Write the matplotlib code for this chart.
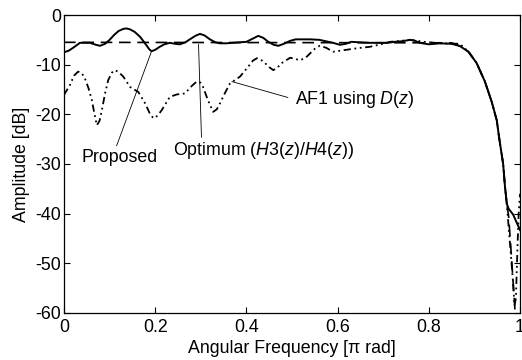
import numpy as np
import matplotlib
matplotlib.use("Agg")
import matplotlib.pyplot as plt

plt.rcParams['font.family'] = ['Liberation Sans', 'DejaVu Sans']
plt.rcParams['mathtext.fontset'] = 'custom'
plt.rcParams['mathtext.rm'] = 'Liberation Sans'
plt.rcParams['mathtext.it'] = 'Liberation Sans:italic'

# Proposed (solid)
prop_x = [0.0, 0.01, 0.02, 0.035, 0.057, 0.07, 0.079, 0.09, 0.10, 0.11, 0.12, 0.13, 0.137,
          0.145, 0.155, 0.167, 0.18, 0.187, 0.192, 0.2, 0.21, 0.22, 0.232, 0.244, 0.254,
          0.266, 0.276, 0.288, 0.298, 0.308, 0.32, 0.332, 0.342, 0.355, 0.371, 0.385, 0.40,
          0.413, 0.426, 0.437, 0.448, 0.46, 0.47, 0.482, 0.496, 0.508, 0.52, 0.54, 0.56,
          0.575, 0.59, 0.605, 0.618, 0.63, 0.65, 0.67, 0.69, 0.71, 0.725, 0.74, 0.759,
          0.77, 0.78, 0.80, 0.825, 0.85, 0.868, 0.887, 0.905, 0.923, 0.938, 0.949, 0.955,
          0.963, 0.967, 0.971, 0.975, 0.985, 1.0]
prop_y = [-7.5, -7.2, -6.6, -5.6, -5.6, -6.0, -6.2, -5.8, -5.0, -4.0, -3.2, -2.8, -2.7,
          -2.9, -3.4, -4.4, -6.0, -6.9, -7.3, -7.0, -6.4, -5.9, -5.6, -5.8, -5.9,
          -5.5, -4.9, -4.2, -3.8, -4.1, -4.9, -5.5, -5.7, -5.7, -5.6, -5.5, -5.4,
          -4.8, -4.2, -4.6, -5.4, -6.0, -6.2, -5.8, -5.2, -4.9, -4.9, -4.9, -5.0,
          -5.3, -5.6, -6.0, -5.8, -5.4, -5.5, -5.6, -5.6, -5.6, -5.4, -5.3, -5.0,
          -5.2, -5.6, -5.9, -5.7, -5.8, -6.25, -7.4, -9.7, -13.4, -17.5, -21.2, -25.2,
          -30.0, -34.5, -38.0, -39.0, -40.2, -43.3]

# Optimum (H3(z)/H4(z)) (dashed)
opt_x = [0.0, 0.85, 0.868, 0.887, 0.905, 0.923, 0.938, 0.949, 0.955, 0.963, 0.967, 0.971,
         0.975, 0.98, 0.985, 0.989, 0.992]
opt_y = [-5.5, -5.6, -6.25, -7.4, -9.7, -13.4, -17.5, -21.2, -25.2, -30.0, -34.5, -38.0,
         -40.5, -47.0, -54.0, -59.5, -60.0]

# AF1 using D(z) (dash-dot-dot)
af1_x = [0.0, 0.013, 0.022, 0.031, 0.039, 0.046, 0.054, 0.061, 0.067, 0.072, 0.078, 0.083,
         0.09, 0.097, 0.105, 0.112, 0.12, 0.13, 0.145, 0.163, 0.178, 0.188, 0.196, 0.205,
         0.214, 0.232, 0.247, 0.265, 0.28, 0.291, 0.299, 0.305, 0.315, 0.327, 0.335, 0.342,
         0.353, 0.364, 0.386, 0.404, 0.414, 0.423, 0.432, 0.441, 0.45, 0.459, 0.468, 0.477,
         0.496, 0.518, 0.53, 0.54, 0.551, 0.561, 0.575, 0.59, 0.612, 0.642,
         0.671, 0.695, 0.715, 0.74, 0.759, 0.79, 0.825, 0.868, 0.887, 0.905, 0.923, 0.938,
         0.949, 0.955, 0.963, 0.967, 0.971, 0.978, 0.984, 0.988, 0.991, 0.994, 0.997, 1.0]
af1_y = [-16.1, -14.1, -12.2, -11.4, -11.7, -12.8, -14.8, -17.1, -20.0, -22.2, -21.3, -19.2,
         -15.8, -13.1, -11.6, -11.1, -11.5, -12.4, -14.5, -15.5, -17.8, -19.8, -20.8, -20.3,
         -19.2, -16.5, -16.0, -15.8, -14.3, -13.4, -13.6, -14.5, -17.0, -19.5, -19.0, -17.8,
         -15.7, -13.8, -12.4, -10.4, -9.2, -8.7, -9.0, -9.7, -10.5, -11.1, -10.6, -9.7,
         -8.6, -9.1, -8.6, -7.7, -6.7, -6.2, -6.6, -7.4, -7.1, -6.7,
         -6.4, -5.9, -5.4, -5.2, -5.0, -5.4, -5.7, -5.8, -7.4, -9.7, -13.4, -17.5,
         -21.2, -25.2, -30.0, -34.5, -38.0, -46.0, -53.0, -58.5, -57.0, -48.0, -40.0, -36.0]

x_ticks = [0, 0.2, 0.4, 0.6, 0.8, 1]
x_ticklabels = ['0', '0.2', '0.4', '0.6', '0.8', '1']
y_ticks = [0, -10, -20, -30, -40, -50, -60]
y_ticklabels = ['0', '-10', '-20', '-30', '-40', '-50', '-60']

fs = 12.8

fig = plt.figure(figsize=(5.22, 3.6), dpi=100)
ax = fig.add_axes([0.1226, 0.1306, 0.8736, 0.8277])

ax.plot(opt_x, opt_y, color='black', lw=1.2, dashes=(7, 4))
ax.plot(af1_x, af1_y, color='black', lw=1.3, dashes=(4, 2, 1, 2, 1, 2))
ax.plot(prop_x, prop_y, color='black', lw=1.4)

ax.set_xlim(0, 1)
ax.set_ylim(-60, 0)
ax.set_xticks(x_ticks)
ax.set_xticklabels(x_ticklabels)
ax.set_yticks(y_ticks)
ax.set_yticklabels(y_ticklabels)
ax.tick_params(direction='in', length=4, width=0.8, top=True, right=True,
               labelsize=fs, pad=2, colors='black')
ax.tick_params(axis='x', pad=4)
for s in ax.spines.values():
    s.set_linewidth(0.9)

ax.set_xlabel('Angular Frequency [\u03c0 rad]', fontsize=fs, labelpad=3)
ax.set_ylabel('Amplitude [dB]', fontsize=fs, labelpad=4)

ax.annotate('Proposed', xy=(0.192, -7.3), xytext=(0.038, -28.6),
            fontsize=fs, ha='left', va='center',
            arrowprops=dict(arrowstyle='-', lw=0.6, color='black',
                            shrinkA=0, shrinkB=0, relpos=(0.45, 1.0)))
ax.annotate(r'Optimum ($\mathit{H}$3($\mathit{z}$)/$\mathit{H}$4($\mathit{z}$))',
            xy=(0.295, -5.9), xytext=(0.238, -27.3),
            fontsize=fs, ha='left', va='center',
            arrowprops=dict(arrowstyle='-', lw=0.6, color='black',
                            shrinkA=0, shrinkB=0, relpos=(0.16, 1.0)))
ax.annotate(r'AF1 using $\mathit{D}$($\mathit{z}$)', xy=(0.368, -13.4),
            xytext=(0.506, -17.0), fontsize=fs, ha='left', va='center',
            arrowprops=dict(arrowstyle='-', lw=0.6, color='black',
                            shrinkA=3, shrinkB=0, relpos=(0.0, 0.5)))

fig.savefig('out.png', dpi=100)
